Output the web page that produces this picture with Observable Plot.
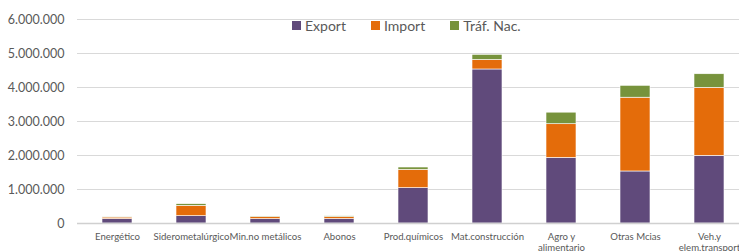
<!DOCTYPE html>
<html><head><meta charset="utf-8">
<script src="https://cdn.jsdelivr.net/npm/d3@7"></script>
<script src="https://cdn.jsdelivr.net/npm/@observablehq/plot@0.6"></script>
<style>
html,body{margin:0;padding:0;background:#fff;overflow:hidden;width:739px;height:251px}
#wrap{position:relative;width:739px;height:251px;overflow:hidden}
#wrap svg{max-width:none !important;}
#legend{position:absolute;top:17px;left:292px;font-family:Lato,sans-serif;font-size:14px;color:#595959;display:flex;gap:0}
#legend span.item{display:inline-flex;align-items:center;margin-right:25px}
#legend span.sw{display:inline-block;width:9px;height:9px;margin-right:4px}
</style></head>
<body><div id="wrap"><div id="legend"></div></div>
<script>
const categories = ["Energético","Siderometalúrgico","Min.no metálicos","Abonos","Prod.químicos","Mat.construcción","Agro y\nalimentario","Otras Mcias","Veh.y\nelem.transport"];
const exportVals = [130000, 215000, 127000, 130000, 1040000, 4530000, 1930000, 1530000, 1990000];
const importVals = [45000, 305000, 65000, 60000, 540000, 280000, 990000, 2170000, 2000000];
const trafVals   = [5000, 48000, 14000, 20000, 67000, 150000, 340000, 350000, 400000];
const seriesNames = ["Export","Import","Tráf. Nac."];
const seriesColors = ["#604A7B","#E46C0A","#77933C"];
const yTicks = [0,1000000,2000000,3000000,4000000,5000000,6000000];

const rows = [];
categories.forEach((c,i)=>{
  rows.push({cat:c, serie:seriesNames[0], value:exportVals[i]});
  rows.push({cat:c, serie:seriesNames[1], value:importVals[i]});
  rows.push({cat:c, serie:seriesNames[2], value:trafVals[i]});
});
const loc = d3.formatLocale({decimal:",", thousands:".", grouping:[3], currency:["","€"]});
const fmt = loc.format(",d");

const chart = Plot.plot({
  width: 749, height: 251,
  marginLeft: 77, marginRight: 0, marginTop: 19, marginBottom: 28,
  style:{fontFamily:"Lato,sans-serif", background:"#fff", maxWidth:"none", overflow:"visible"},
  x:{domain:categories, paddingInner:0.6, paddingOuter:0.3, axis:null, label:null},
  y:{domain:[0,6000000], axis:null, label:null},
  color:{domain:seriesNames, range:seriesColors},
  marks:[
    Plot.gridY(yTicks,{stroke:"#d9d9d9", strokeOpacity:1, strokeWidth:1}),
    Plot.barY(rows, Plot.stackY({x:"cat", y:"value", fill:"serie", order:seriesNames, stroke:"#fff", strokeWidth:0.6})),
    Plot.ruleY([0],{stroke:"#d0d0d0", strokeWidth:1.5}),
    Plot.axisY(yTicks,{tickSize:0, tickPadding:13, tickFormat:fmt, fontSize:12.5, fill:"#595959", label:null}),
    Plot.axisX({tickSize:0, tickPadding:8, fontSize:9.6, fill:"#595959", lineHeight:1.2, label:null})
  ]
});
document.getElementById("wrap").prepend(chart);
const lg = document.getElementById("legend");
seriesNames.forEach((n,i)=>{
  const s=document.createElement("span"); s.className="item";
  s.innerHTML=`<span class="sw" style="background:${seriesColors[i]}"></span>${n}`;
  lg.appendChild(s);
});
</script></body></html>
